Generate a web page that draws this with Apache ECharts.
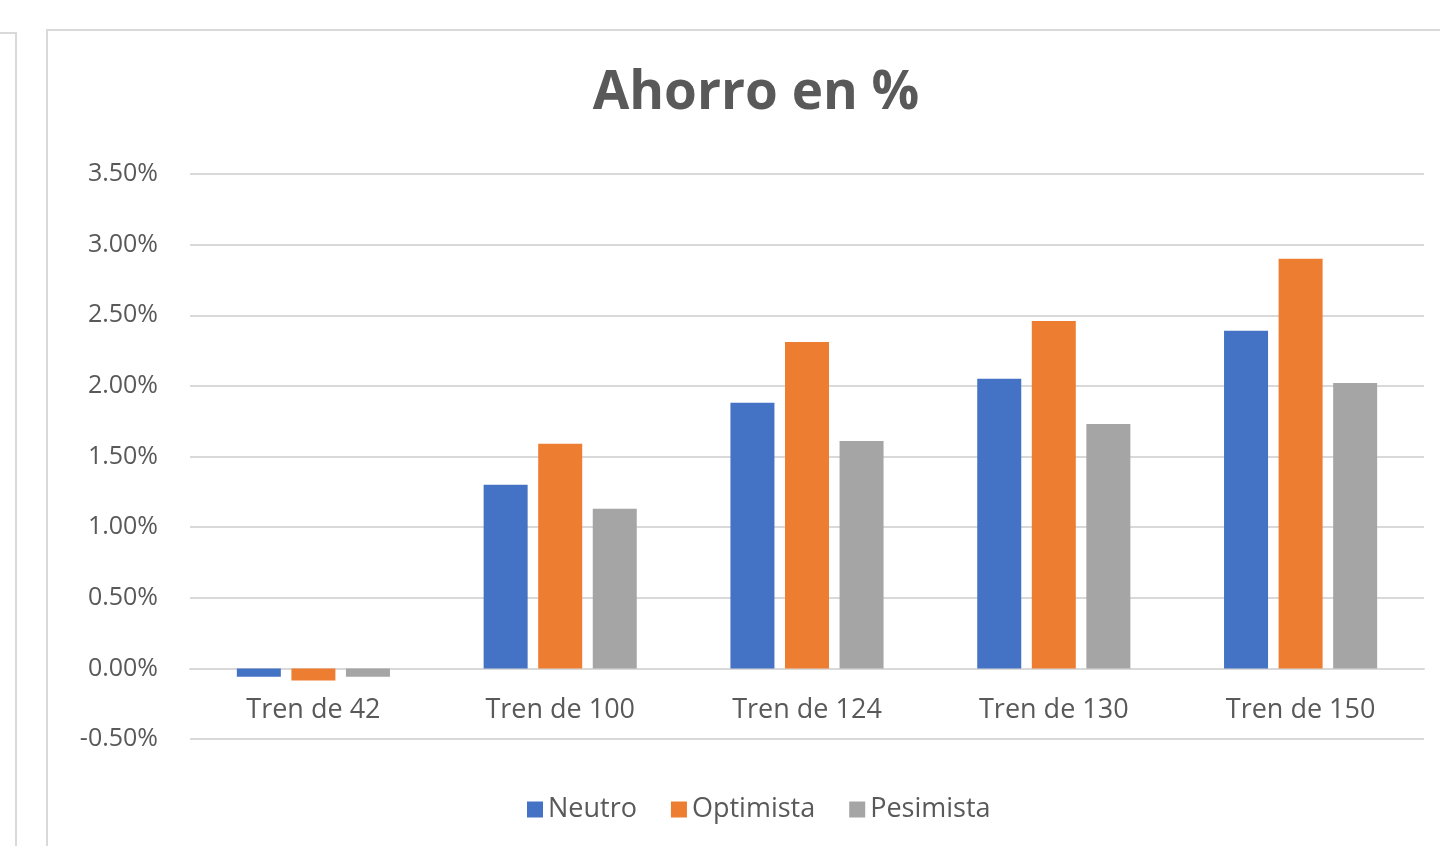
<!DOCTYPE html>
<html>
<head>
<meta charset="utf-8">
<title>Ahorro en %</title>
<script src="https://cdn.jsdelivr.net/npm/echarts@6/dist/echarts.min.js"></script>
<style>
  html, body { margin: 0; padding: 0; background: #fff; }
  #chart { width: 1440px; height: 846px; }
</style>
</head>
<body>
<div id="chart"></div>
<script>
// datos (en %)
var categorias = ["Tren de 42", "Tren de 100", "Tren de 124", "Tren de 130", "Tren de 150"];
var neutro    = [-0.06, 1.30, 1.88, 2.05, 2.39];
var optimista = [-0.085, 1.59, 2.31, 2.46, 2.90];
var pesimista = [-0.06, 1.13, 1.61, 1.73, 2.02];
var series_nombres = ["Neutro", "Optimista", "Pesimista"];
var colores = ["#4472C4", "#ED7D31", "#A5A5A5"];

var fuente = "Open Sans";
var gris = "#595959";

let chart = echarts.init(document.getElementById("chart"));

function serie(nombre, datos, color){
    return {
        name: nombre,
        type: "bar",
        data: datos,
        barWidth: 44,
        barGap: "24%",
        itemStyle: { color: color },
        emphasis: { disabled: true }
    };
}

let opts = {
    animation: false,
    title: {
        text: "Ahorro en %",
        left: 751,
        top: 62,
        textAlign: "center",
        textStyle: { fontFamily: fuente, fontSize: 53, fontWeight: "bold", color: gris }
    },
    legend: {
        data: series_nombres,
        left: 522,
        top: 791,
        itemWidth: 16,
        itemHeight: 16,
        itemGap: 34,
        icon: "rect",
        textStyle: { fontFamily: fuente, fontSize: 27, color: gris }
    },
    grid: { left: 190, right: 16, top: 174, bottom: 107, containLabel: false },
    xAxis: {
        type: "category",
        data: categorias,
        axisLine: { onZero: true, lineStyle: { color: "#d9d9d9", width: 2 } },
        axisTick: { show: false },
        // las etiquetas van pegadas al eje en 0, no al fondo
        axisLabel: { margin: -42, fontFamily: fuente, fontSize: 27, color: gris }
    },
    yAxis: {
        type: "value",
        min: -0.5,
        max: 3.5,
        interval: 0.5,
        axisLine: { show: false },
        axisTick: { show: false },
        splitLine: { lineStyle: { color: "#d9d9d9", width: 2 } },
        axisLabel: {
            margin: 32,
            fontFamily: fuente, fontSize: 25, color: gris,
            formatter: function(v){ return v.toFixed(2) + "%"; }
        }
    },
    graphic: [
        // marco del panel
        { type: "rect", shape: { x: 47, y: 30, width: 1500, height: 900 },
          style: { fill: null, stroke: "#d9d9d9", lineWidth: 2 }, silent: true },
        { type: "polyline", shape: { points: [[0, 33], [16, 33], [16, 846]] },
          style: { fill: null, stroke: "#d9d9d9", lineWidth: 2 }, silent: true }
    ],
    series: [
        serie(series_nombres[0], neutro, colores[0]),
        serie(series_nombres[1], optimista, colores[1]),
        serie(series_nombres[2], pesimista, colores[2])
    ]
};
chart.setOption(opts);
</script>
</body>
</html>
